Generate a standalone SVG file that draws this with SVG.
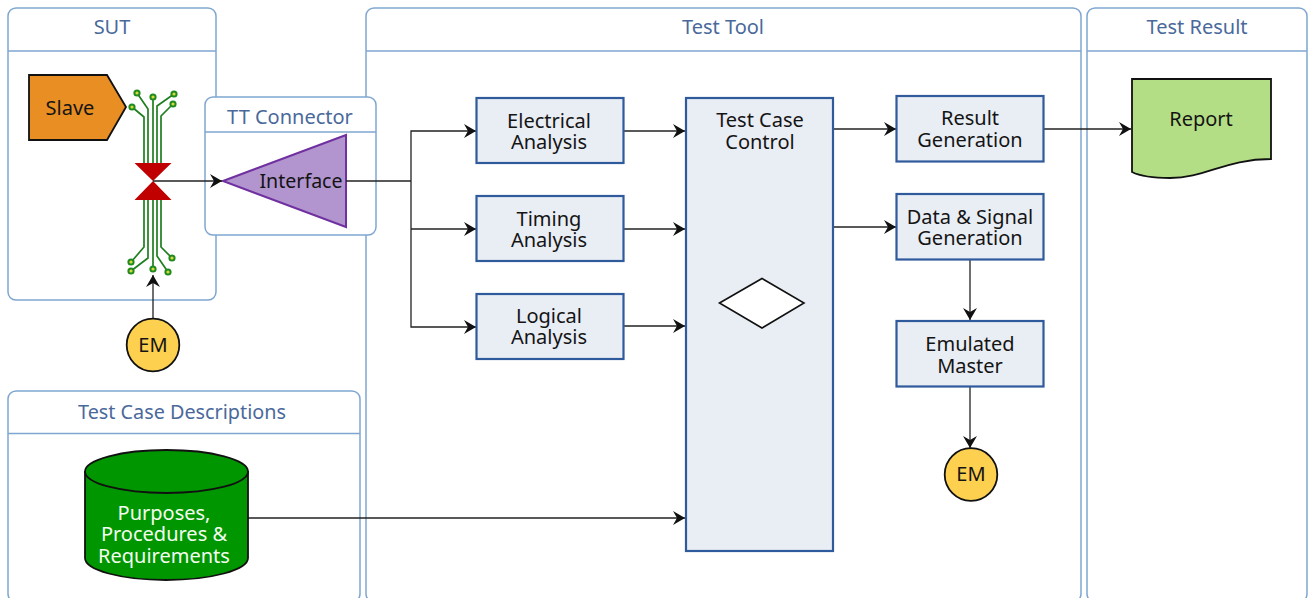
<svg xmlns="http://www.w3.org/2000/svg" width="1310" height="598" viewBox="0 0 1310 598">
<style>
text{font-family:"Noto Sans","Open Sans","Liberation Sans",sans-serif;text-anchor:middle;fill:#141414;font-size:20px}
.pool{fill:none;stroke:#7fa6d0;stroke-width:1.5}
.poolw{fill:#fff;stroke:#7fa6d0;stroke-width:1.5}
.hd{stroke:#7fa6d0;stroke-width:1.4;fill:none}
.ht{fill:#4a699b;font-size:20px}
.box{fill:#e9edf4;stroke:#2f5a9b;stroke-width:2.2}
.conn{fill:none;stroke:#222;stroke-width:1.3}
.arr{marker-end:url(#a)}
.tr{fill:none;stroke:#1f7f1f;stroke-width:1.7}
.pad{fill:#d6d93a;stroke:#1f8a1f;stroke-width:2}
.em{fill:#fdd04f;stroke:#111;stroke-width:1.8}
</style>
<defs>
<marker id="a" markerUnits="userSpaceOnUse" markerWidth="13" markerHeight="16" refX="12" refY="8" orient="auto">
<path d="M0,1 L12,8 L0,15 L4,8 Z" fill="#111"/>
</marker>
</defs>
<rect width="1310" height="598" fill="#fff"/>
<g id="pool-sut">
<rect class="pool" x="8" y="8" width="208" height="292" rx="8"/>
<path class="hd" d="M8 51H216"/>
<text class="ht" x="112" y="34">SUT</text>
</g>
<g id="pool-test-tool">
<rect class="pool" x="366" y="8" width="715" height="594" rx="8"/>
<path class="hd" d="M366 51H1081"/>
<text class="ht" x="723" y="34">Test Tool</text>
</g>
<g id="pool-test-result">
<rect class="pool" x="1087" y="8" width="220" height="594" rx="8"/>
<path class="hd" d="M1087 51H1307"/>
<text class="ht" x="1197" y="34">Test Result</text>
</g>
<g id="pool-test-case">
<rect class="pool" x="8" y="391" width="352" height="211" rx="8"/>
<path class="hd" d="M8 433.500H360"/>
<text class="ht" x="182" y="419" style="font-size:19.800px">Test Case Descriptions</text>
</g>
<g id="pool-tt-connector">
<rect class="poolw" x="205" y="97" width="171" height="138" rx="8"/>
<path class="hd" d="M205 132H376"/>
<text class="ht" x="290" y="124">TT Connector</text>
</g>
<g id="slave">
<path d="M29 75H107L126 107L107 140H29Z" fill="#e88e22" stroke="#111" stroke-width="1.800"/>
<text x="70" y="115">Slave</text>
</g>
<g id="bus">
<path class="tr" d="M132 107L144 117V163M137 93L148 109V163M153 97V163M174 94L157 106V163M173 104L161 116V163"/>
<path class="tr" d="M144 199V247L132 261M148 199V258L131 271M153 199V269M157 199V256L168 272M161 199V247L172 258"/>
<circle class="pad" cx="132" cy="107" r="2.600"/>
<circle class="pad" cx="137" cy="93" r="2.600"/>
<circle class="pad" cx="153" cy="97" r="2.600"/>
<circle class="pad" cx="174" cy="94" r="2.600"/>
<circle class="pad" cx="173" cy="104" r="2.600"/>
<circle class="pad" cx="131" cy="262" r="2.600"/>
<circle class="pad" cx="131" cy="271" r="2.600"/>
<circle class="pad" cx="153" cy="269" r="2.600"/>
<circle class="pad" cx="168" cy="272" r="2.600"/>
<circle class="pad" cx="172" cy="258" r="2.600"/>
<path d="M134.500 163H171.500L153 181L171.500 200H134.500L153 181Z" fill="#c00000"/>
</g>
<g id="interface">
<path d="M223 181L346 135V227Z" fill="#b295cf" stroke="#7030a0" stroke-width="2"/>
<text x="301" y="188" style="font-size:19.600px">Interface</text>
</g>
<g id="connectors">
<path class="conn arr" d="M153 181H222"/>
<path class="conn" d="M346 181H411"/>
<path class="conn arr" d="M411 181V131H476"/>
<path class="conn arr" d="M411 229H476"/>
<path class="conn arr" d="M411 181V327H476"/>
<path class="conn arr" d="M624 131H685"/>
<path class="conn arr" d="M624 229H685"/>
<path class="conn arr" d="M624 326H685"/>
<path class="conn arr" d="M833 129H896"/>
<path class="conn arr" d="M833 227H896"/>
<path class="conn arr" d="M1043 129H1131"/>
<path class="conn arr" d="M970 260V320"/>
<path class="conn arr" d="M970 387V448"/>
<path class="conn arr" d="M153 319V275"/>
<path class="conn arr" d="M248 518H685"/>
</g>
<g id="electrical"><rect class="box" x="476.500" y="98" width="147" height="65"/><text x="549" y="128">Electrical</text><text x="549" y="149">Analysis</text></g>
<g id="timing"><rect class="box" x="476.500" y="196" width="147" height="65"/><text x="549" y="226">Timing</text><text x="549" y="247">Analysis</text></g>
<g id="logical"><rect class="box" x="476.500" y="294" width="147" height="65"/><text x="549" y="323">Logical</text><text x="549" y="344">Analysis</text></g>
<g id="control"><rect class="box" x="686" y="98" width="147" height="453"/><text x="760" y="127">Test Case</text><text x="760" y="149">Control</text>
<path d="M719.500 303L762 278.500L804 303L762 328Z" fill="#fff" stroke="#111" stroke-width="1.600"/></g>
<g id="result"><rect class="box" x="896.500" y="96" width="147" height="65.500"/><text x="970" y="125">Result</text><text x="970" y="147">Generation</text></g>
<g id="data"><rect class="box" x="896.500" y="194" width="147" height="65.500"/><text x="970" y="224">Data &amp; Signal</text><text x="970" y="245">Generation</text></g>
<g id="emulated"><rect class="box" x="896.500" y="321" width="147" height="65.500"/><text x="970" y="351">Emulated</text><text x="970" y="373">Master</text></g>
<g id="em-top"><circle class="em" cx="153" cy="345" r="26.300"/><text x="153" y="352">EM</text></g>
<g id="em-bottom"><circle class="em" cx="971" cy="474.500" r="26.300"/><text x="971" y="481">EM</text></g>
<g id="requirements">
<path d="M85 472V558C85 570 121 580 166 580S248 570 248 558V472Z" fill="#009600" stroke="#111" stroke-width="1.800"/>
<ellipse cx="166.500" cy="471.500" rx="81.500" ry="21.500" fill="#009600" stroke="#111" stroke-width="1.800"/>
<text x="164" y="520" style="fill:#f4fff0">Purposes,</text>
<text x="164" y="541" style="fill:#f4fff0">Procedures &amp;</text>
<text x="164" y="563" style="fill:#f4fff0">Requirements</text>
</g>
<g id="report">
<path d="M1132 79H1271V159C1226 159 1205 178 1170 178C1152 178 1140 176 1132 172Z" fill="#b4de85" stroke="#111" stroke-width="1.800"/>
<text x="1201" y="126">Report</text>
</g>
</svg>
